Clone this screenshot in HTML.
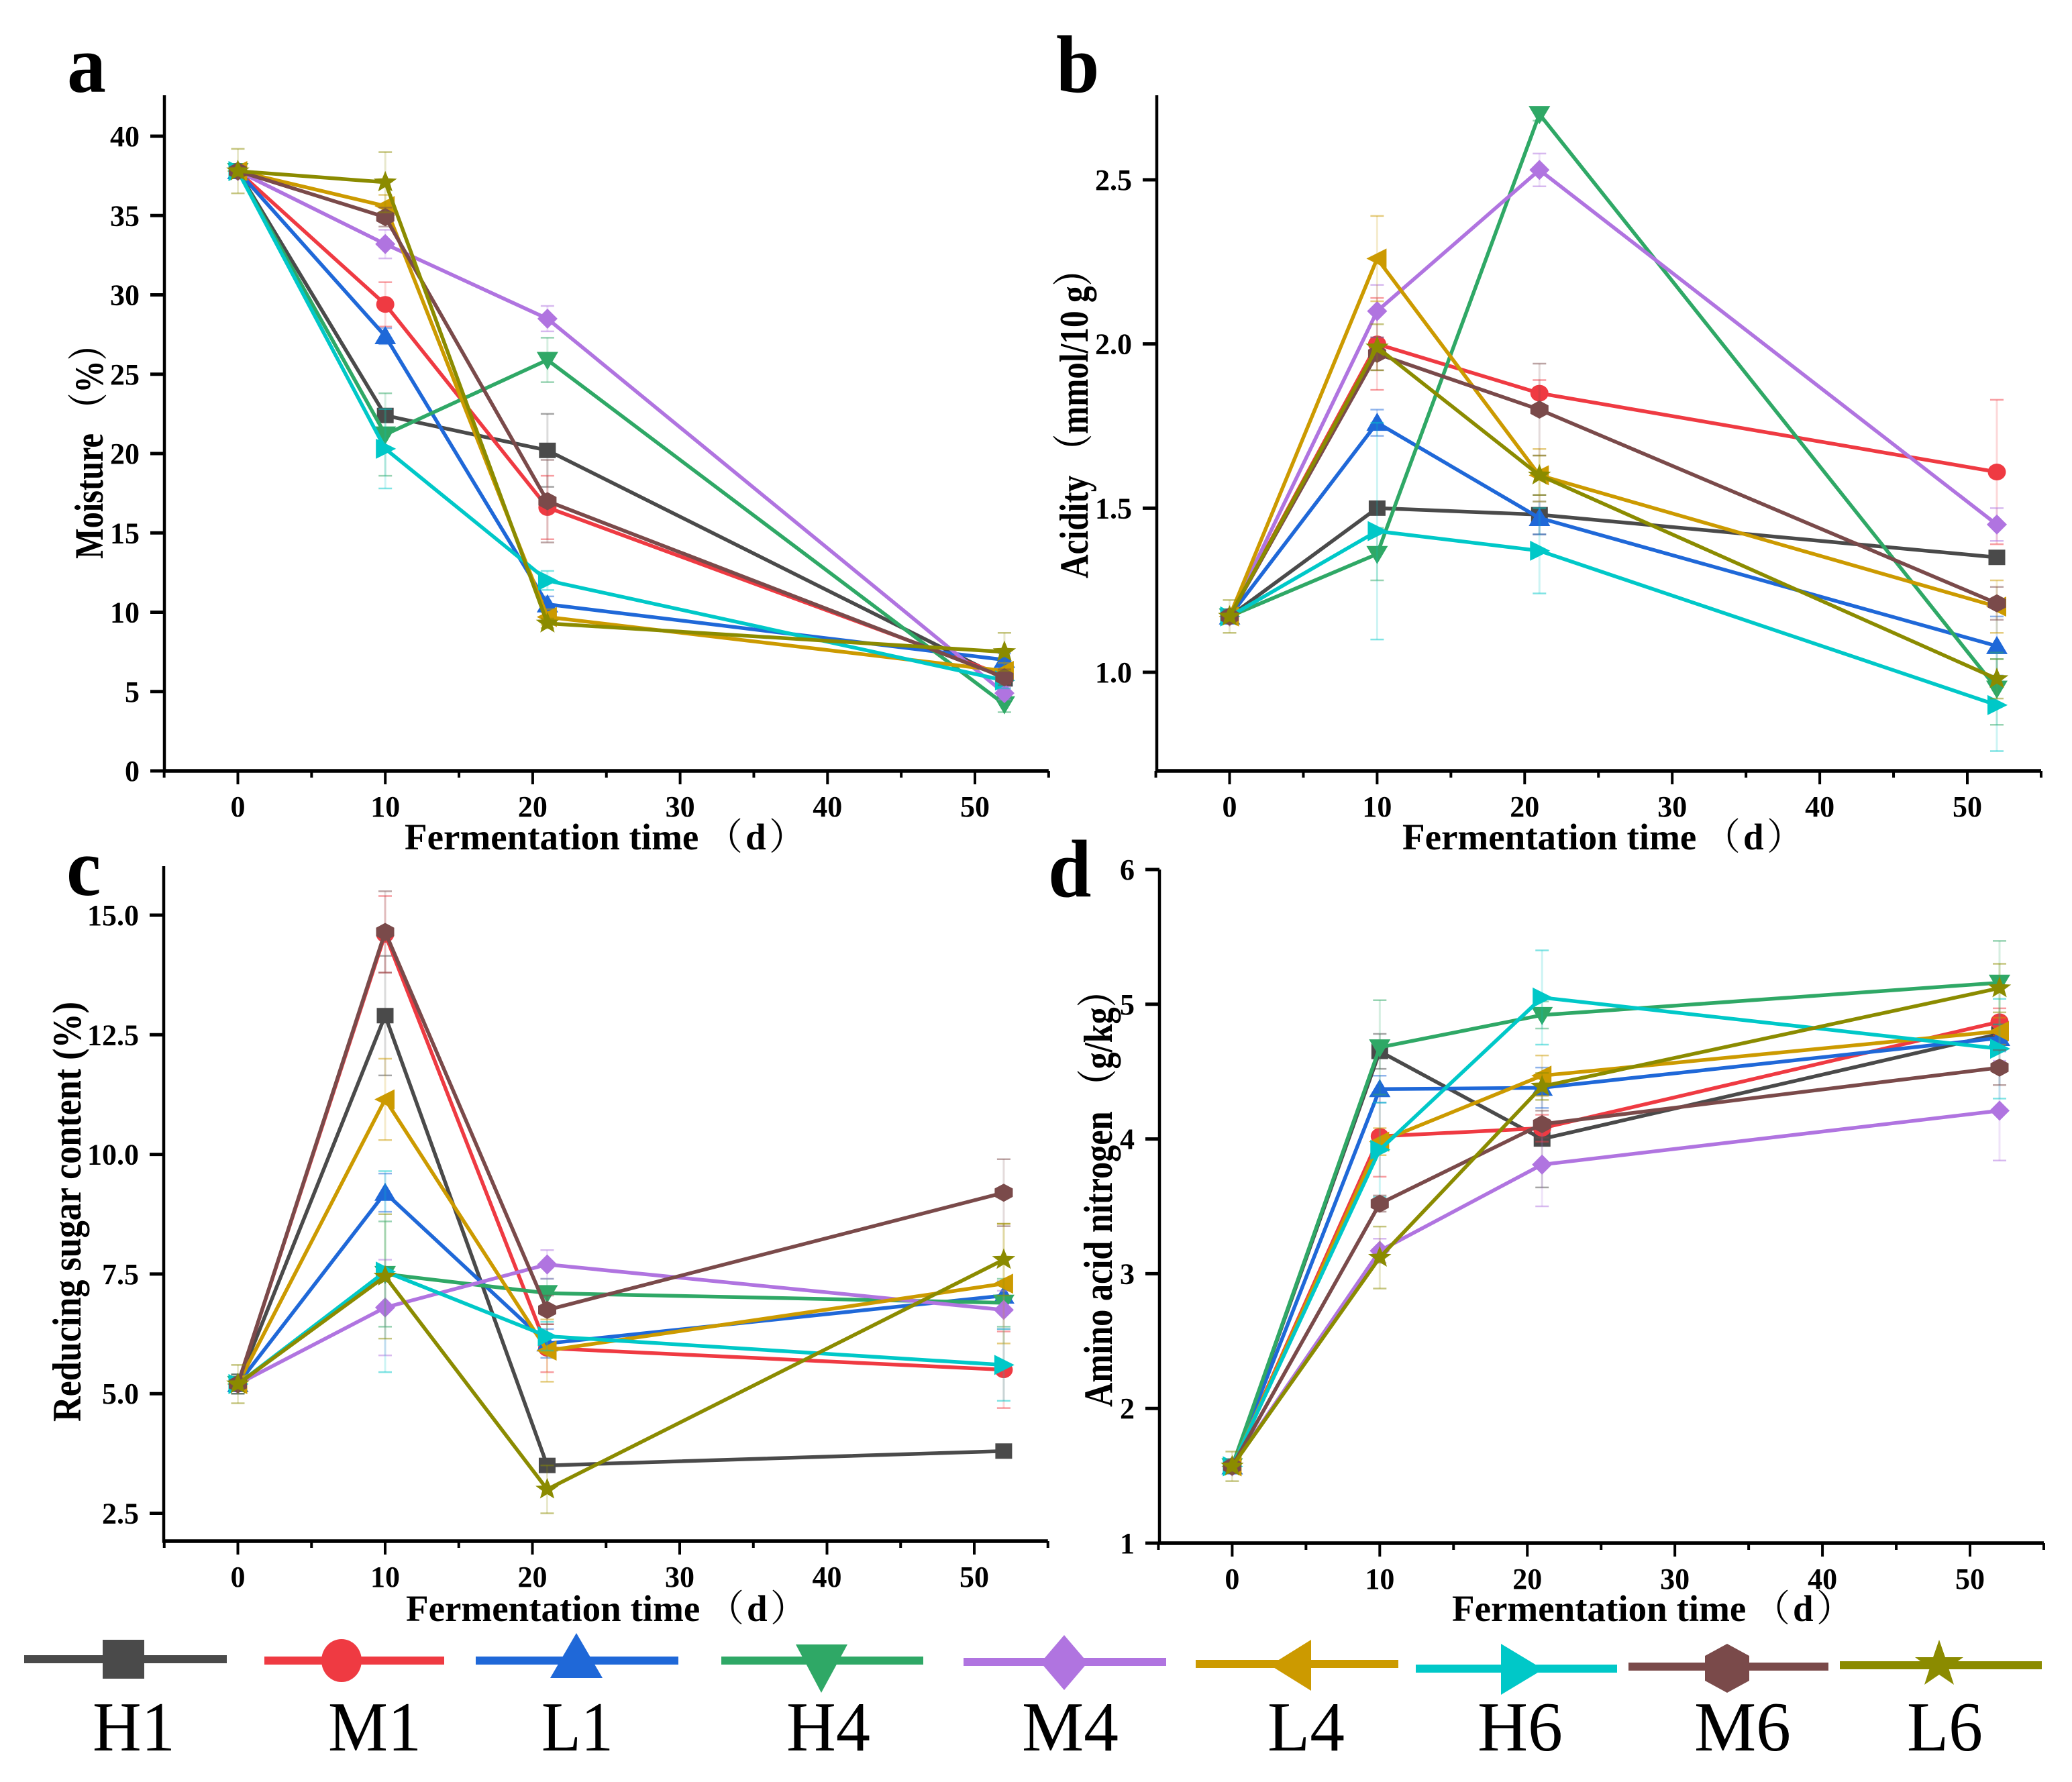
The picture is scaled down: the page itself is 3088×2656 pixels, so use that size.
<!DOCTYPE html>
<html>
<head>
<meta charset="utf-8">
<title>Fermentation time courses</title>
<style>
html,body{margin:0;padding:0;background:#fff;}
svg{display:block;}
text{font-family:"Liberation Serif","Noto Serif CJK SC",serif;fill:#000;}
.b{font-weight:bold;}
.p{font-weight:normal;}
</style>
</head>
<body>
<svg id="fig" xmlns="http://www.w3.org/2000/svg" width="3088" height="2656" viewBox="0 0 3088 2656">
<rect width="3088" height="2656" fill="#fff"/>

<text class="b" transform="translate(100,137) scale(.95,1)" font-size="122">a</text>
<text class="b" transform="translate(1574,137) scale(.95,1)" font-size="122">b</text>
<text class="b" transform="translate(99,1334) scale(.95,1)" font-size="122">c</text>
<text class="b" transform="translate(1562,1336) scale(.95,1)" font-size="122">d</text>

<text class="b" y="1266" font-size="55"><tspan x="603">Fermentation time</tspan><tspan class="p" x="1052">（</tspan><tspan x="1111">d</tspan><tspan class="p" x="1146">）</tspan></text>
<text class="b" y="1266" font-size="55"><tspan x="2090">Fermentation time</tspan><tspan class="p" x="2539">（</tspan><tspan x="2598">d</tspan><tspan class="p" x="2633">）</tspan></text>
<text class="b" y="2416" font-size="55"><tspan x="605">Fermentation time</tspan><tspan class="p" x="1054">（</tspan><tspan x="1113">d</tspan><tspan class="p" x="1148">）</tspan></text>
<text class="b" y="2416" font-size="55"><tspan x="2164">Fermentation time</tspan><tspan class="p" x="2613">（</tspan><tspan x="2672">d</tspan><tspan class="p" x="2707">）</tspan></text>

<text class="b" transform="translate(153,833) rotate(-90)" font-size="60" textLength="344" lengthAdjust="spacingAndGlyphs">Moisture （%）</text>
<text class="b" transform="translate(1621,862) rotate(-90)" font-size="60" textLength="485" lengthAdjust="spacingAndGlyphs">Acidity （mmol/10 g）</text>
<text class="b" transform="translate(120,2119) rotate(-90)" font-size="60" textLength="626" lengthAdjust="spacingAndGlyphs">Reducing sugar content (%)</text>
<text class="b" transform="translate(1657,2097) rotate(-90)" font-size="60" textLength="646" lengthAdjust="spacingAndGlyphs">Amino acid nitrogen （g/kg）</text>

<text x="138" y="2609" font-size="105" textLength="123" lengthAdjust="spacingAndGlyphs">H1</text>
<text x="489" y="2609" font-size="105" textLength="139" lengthAdjust="spacingAndGlyphs">M1</text>
<text x="807" y="2609" font-size="105" textLength="107" lengthAdjust="spacingAndGlyphs">L1</text>
<text x="1172" y="2609" font-size="105" textLength="125" lengthAdjust="spacingAndGlyphs">H4</text>
<text x="1523" y="2609" font-size="105" textLength="144" lengthAdjust="spacingAndGlyphs">M4</text>
<text x="1889" y="2609" font-size="105" textLength="115" lengthAdjust="spacingAndGlyphs">L4</text>
<text x="2202" y="2609" font-size="105" textLength="127" lengthAdjust="spacingAndGlyphs">H6</text>
<text x="2525" y="2609" font-size="105" textLength="144" lengthAdjust="spacingAndGlyphs">M6</text>
<text x="2842" y="2609" font-size="105" textLength="113" lengthAdjust="spacingAndGlyphs">L6</text>

<g><line x1="36" y1="2473" x2="338" y2="2473" stroke="#4a4a4a" stroke-width="12"/><rect x="153" y="2444" width="62" height="58" fill="#4a4a4a"/></g>
<g><line x1="394" y1="2475" x2="662" y2="2475" stroke="#ef3a42" stroke-width="12"/><ellipse cx="509" cy="2475" rx="30" ry="32" fill="#ef3a42"/></g>
<g><line x1="709" y1="2475" x2="1011" y2="2475" stroke="#1f68d8" stroke-width="12"/><polygon points="859,2434 898,2501 820,2501" fill="#1f68d8"/></g>
<g><line x1="1075" y1="2475" x2="1376" y2="2475" stroke="#2fa866" stroke-width="12"/><polygon points="1186,2451 1263,2451 1224,2523" fill="#2fa866"/></g>
<g><line x1="1436" y1="2477" x2="1738" y2="2477" stroke="#b074e0" stroke-width="12"/><polygon points="1586,2437 1621,2478 1586,2519 1551,2478" fill="#b074e0"/></g>
<g><line x1="1782" y1="2480" x2="2084" y2="2480" stroke="#cc9a00" stroke-width="12"/><polygon points="1893,2482 1954,2444 1954,2520" fill="#cc9a00"/></g>
<g><line x1="2110" y1="2487" x2="2410" y2="2487" stroke="#00c8c8" stroke-width="12"/><polygon points="2237,2450 2300,2488 2237,2526" fill="#00c8c8"/></g>
<g><line x1="2427" y1="2484" x2="2725" y2="2484" stroke="#7a4a4a" stroke-width="12"/><polygon points="2574,2450 2607,2468 2607,2505 2574,2523 2541,2505 2541,2468" fill="#7a4a4a"/></g>
<g><line x1="2742" y1="2482" x2="3043" y2="2482" stroke="#8b8b00" stroke-width="12"/><polygon points="2890,2444 2899,2470 2926,2470 2904,2486 2912,2511 2890,2496 2868,2511 2876,2486 2854,2470 2881,2470" fill="#8b8b00"/></g>

<g id="charts"></g>
</svg>

<script>
const days = [0, 10, 21, 52];
const seriesNames = ['H1','M1','L1','H4','M4','L4','H6','M6','L6'];
const seriesColors = ['#4a4a4a','#ef3a42','#1f68d8','#2fa866','#b074e0','#cc9a00','#00c8c8','#7a4a4a','#8b8b00'];

const xTickLabels = ['0','10','20','30','40','50'];
const xMinorTicks = [-5,5,15,25,35,45,55];

const moistureTicks = ['0','5','10','15','20','25','30','35','40'];
const acidityTicks = ['1.0','1.5','2.0','2.5'];
const sugarTicks = ['2.5','5.0','7.5','10.0','12.5','15.0'];
const nitrogenTicks = ['1','2','3','4','5','6'];

const moistureH1 = [37.8,22.4,20.2,5.8];
const moistureM1 = [37.8,29.4,16.6,6.0];
const moistureL1 = [37.8,27.4,10.5,7.0];
const moistureH4 = [37.8,21.2,25.9,4.2];
const moistureM4 = [37.8,33.2,28.5,4.9];
const moistureL4 = [37.8,35.6,9.7,6.3];
const moistureH6 = [37.8,20.3,12.0,5.7];
const moistureM6 = [37.8,34.9,17.0,5.9];
const moistureL6 = [37.8,37.1,9.3,7.5];
const moistureErrH1 = [0.2,0.4,2.3,0.4];
const moistureErrM1 = [0.2,1.4,2.0,0.5];
const moistureErrL1 = [0.2,0.5,0.5,0.4];
const moistureErrH4 = [0.2,2.6,1.4,0.5];
const moistureErrM4 = [0.2,0.9,0.8,0.4];
const moistureErrL4 = [0.2,0.7,0.5,0.5];
const moistureErrH6 = [0.2,2.5,0.6,0.5];
const moistureErrM6 = [0.2,0.6,2.6,0.5];
const moistureErrL6 = [1.4,1.9,0.3,1.2];

const acidityH1 = [1.17,1.50,1.48,1.35];
const acidityM1 = [1.17,2.00,1.85,1.61];
const acidityL1 = [1.17,1.76,1.47,1.08];
const acidityH4 = [1.17,1.36,2.70,0.95];
const acidityM4 = [1.17,2.10,2.53,1.45];
const acidityL4 = [1.17,2.26,1.60,1.20];
const acidityH6 = [1.17,1.43,1.37,0.90];
const acidityM6 = [1.17,1.97,1.80,1.21];
const acidityL6 = [1.17,1.99,1.60,0.98];
const acidityErrH1 = [0.02,0.02,0.06,0.02];
const acidityErrM1 = [0.02,0.14,0.04,0.22];
const acidityErrL1 = [0.02,0.04,0.05,0.09];
const acidityErrH4 = [0.02,0.08,0.02,0.11];
const acidityErrM4 = [0.02,0.08,0.05,0.05];
const acidityErrL4 = [0.02,0.13,0.08,0.08];
const acidityErrH6 = [0.02,0.33,0.13,0.14];
const acidityErrM6 = [0.02,0.05,0.14,0.05];
const acidityErrL6 = [0.05,0.07,0.06,0.06];

const sugarH1 = [5.2,12.9,3.5,3.8];
const sugarM1 = [5.2,14.6,5.95,5.5];
const sugarL1 = [5.2,9.2,6.05,7.05];
const sugarH4 = [5.2,7.5,7.1,6.9];
const sugarM4 = [5.2,6.8,7.7,6.75];
const sugarL4 = [5.2,11.15,5.9,7.3];
const sugarH6 = [5.2,7.55,6.2,5.6];
const sugarM6 = [5.2,14.65,6.75,9.2];
const sugarL6 = [5.2,7.45,3.0,7.8];
const sugarErrH1 = [0.2,1.25,0.1,0.1];
const sugarErrM1 = [0.2,0.8,0.5,0.8];
const sugarErrL1 = [0.2,0.4,0.3,0.3];
const sugarErrH4 = [0.2,1.1,0.3,0.5];
const sugarErrM4 = [0.2,1.0,0.3,0.4];
const sugarErrL4 = [0.2,0.85,0.65,1.25];
const sugarErrH6 = [0.2,2.1,0.3,0.75];
const sugarErrM6 = [0.2,0.85,0.3,0.7];
const sugarErrL6 = [0.4,1.3,0.5,0.75];

const nitrogenH1 = [1.57,4.65,4.00,4.78];
const nitrogenM1 = [1.57,4.02,4.08,4.87];
const nitrogenL1 = [1.57,4.37,4.38,4.75];
const nitrogenH4 = [1.57,4.68,4.92,5.16];
const nitrogenM4 = [1.57,3.17,3.81,4.21];
const nitrogenL4 = [1.57,3.98,4.47,4.80];
const nitrogenH6 = [1.57,3.92,5.05,4.67];
const nitrogenM6 = [1.57,3.52,4.11,4.53];
const nitrogenL6 = [1.57,3.12,4.39,5.12];
const nitrogenErrH1 = [0.05,0.13,0.36,0.1];
const nitrogenErrM1 = [0.05,0.3,0.1,0.1];
const nitrogenErrL1 = [0.05,0.1,0.15,0.1];
const nitrogenErrH4 = [0.05,0.35,0.1,0.31];
const nitrogenErrM4 = [0.05,0.09,0.31,0.37];
const nitrogenErrL4 = [0.05,0.1,0.15,0.1];
const nitrogenErrH6 = [0.05,0.35,0.35,0.37];
const nitrogenErrM6 = [0.05,0.06,0.1,0.13];
const nitrogenErrL6 = [0.11,0.23,0.1,0.18];

const NS = 'http://www.w3.org/2000/svg';
const root = document.getElementById('charts');

function mk(tag, attrs, parent){
  const el = document.createElementNS(NS, tag);
  for (const k in attrs) el.setAttribute(k, attrs[k]);
  parent.appendChild(el);
  return el;
}
function linear(d0, d1, r0, r1){
  return function(v){ return r0 + (v - d0) * (r1 - r0) / (d1 - d0); };
}
function pts(list){
  return list.map(function(p){ return p[0].toFixed(1) + ',' + p[1].toFixed(1); }).join(' ');
}
function marker(kind, x, y, color, parent){
  const rx = 13.5, ry = 12.5;
  let el;
  if (kind === 'H1') {
    el = mk('rect', {x:x-rx+1, y:y-ry+1, width:2*rx-2, height:2*ry-2, fill:color}, parent);
  } else if (kind === 'M1') {
    el = mk('ellipse', {cx:x, cy:y, rx:rx, ry:ry, fill:color}, parent);
  } else {
    let p;
    if (kind === 'L1') p = [[x,y-15],[x+16,y+12],[x-16,y+12]];
    if (kind === 'H4') p = [[x-16,y-12],[x+16,y-12],[x,y+15]];
    if (kind === 'M4') p = [[x,y-15],[x+15,y],[x,y+15],[x-15,y]];
    if (kind === 'L4') p = [[x-16,y],[x+14,y-15],[x+14,y+15]];
    if (kind === 'H6') p = [[x+16,y],[x-14,y-15],[x-14,y+15]];
    if (kind === 'M6') p = [[x,y-ry-1],[x+rx,y-ry/2],[x+rx,y+ry/2],[x,y+ry+1],[x-rx,y+ry/2],[x-rx,y-ry/2]];
    if (kind === 'L6') {
      p = [];
      for (let i = 0; i < 10; i++) {
        const a = -Math.PI / 2 + i * Math.PI / 5;
        const r = i % 2 ? 0.55 : 1.3;
        p.push([x + 14 * r * Math.cos(a), y + 13 * r * Math.sin(a)]);
      }
    }
    el = mk('polygon', {points:pts(p), fill:color}, parent);
  }
  return el;
}

function drawPanel(cfg){
  const g = mk('g', {}, root);
  
  
  const X = linear(0, 50, cfg.x0, cfg.x50);
  const Y = linear(cfg.v0, cfg.v1, cfg.y0, cfg.y1);

  const xAxis = mk('line', {x1:cfg.left-2, y1:cfg.bottom, x2:X(55), y2:cfg.bottom, stroke:'#000', 'stroke-width':5.5}, g);
  
  
  const yAxis = mk('line', {x1:cfg.left, y1:cfg.top, x2:cfg.left, y2:cfg.bottom+2, stroke:'#000', 'stroke-width':4.5}, g);
  
  

  xTickLabels.forEach(function(lbl){
    const v = Number(lbl);
    const t = mk('line', {x1:X(v), y1:cfg.bottom, x2:X(v), y2:cfg.bottom+20, stroke:'#000', 'stroke-width':4}, g);
    
    
    const tx = mk('text', {'text-anchor':'middle', 'font-size':44, 'font-weight':'bold', x:X(v), y:cfg.bottom+68}, g);
    tx.textContent = lbl;
    
    
  });
  xMinorTicks.forEach(function(v){
    const t = mk('line', {x1:X(v), y1:cfg.bottom, x2:X(v), y2:cfg.bottom+10, stroke:'#000', 'stroke-width':4}, g);
    
    
  });
  cfg.ticks.forEach(function(lbl){
    const v = Number(lbl);
    const t = mk('line', {x1:cfg.left-21, y1:Y(v), x2:cfg.left, y2:Y(v), stroke:'#000', 'stroke-width':5}, g);
    
    
    const tx = mk('text', {'text-anchor':'end', 'font-size':44, 'font-weight':'bold', x:cfg.left-37, y:Y(v)+15}, g);
    tx.textContent = lbl;
    
    
  });

  cfg.values.forEach(function(vals, si){
    const color = seriesColors[si];
    const name = seriesNames[si];
    const sg = mk('g', {}, g);
    
    
    const errs = cfg.errors[si];
    vals.forEach(function(v, i){
      const x = X(days[i]);
      const yt = Y(v + errs[i]);
      const yb = Y(v - errs[i]);
      const stem = mk('path', {d:'M' + x + ' ' + yt + 'V' + yb, fill:'none', stroke:color, 'stroke-width':3, opacity:0.2}, sg);
      
      
      const caps = mk('path', {d:'M' + (x-10) + ' ' + yt + 'H' + (x+10) + 'M' + (x-10) + ' ' + yb + 'H' + (x+10),
        fill:'none', stroke:color, 'stroke-width':2.5, opacity:0.5}, sg);
      
      
    });
    const line = mk('polyline', {points:pts(vals.map(function(v, i){ return [X(days[i]), Y(v)]; })),
      fill:'none', stroke:color, 'stroke-width':5.5, 'stroke-linejoin':'round'}, sg);
    
    
    vals.forEach(function(v, i){
      const m = marker(name, X(days[i]), Y(v), color, sg);
      
      
    });
  });
}

drawPanel({id:'a', x0:354.5, x50:1453, v0:0, v1:40, y0:1149, y1:203, left:245, top:142, bottom:1149, ticks:moistureTicks,
  values:[moistureH1,moistureM1,moistureL1,moistureH4,moistureM4,moistureL4,moistureH6,moistureM6,moistureL6],
  errors:[moistureErrH1,moistureErrM1,moistureErrL1,moistureErrH4,moistureErrM4,moistureErrL4,moistureErrH6,moistureErrM6,moistureErrL6]});
drawPanel({id:'b', x0:1832.5, x50:2932, v0:1, v1:2.5, y0:1002, y1:268, left:1724, top:142, bottom:1149, ticks:acidityTicks,
  values:[acidityH1,acidityM1,acidityL1,acidityH4,acidityM4,acidityL4,acidityH6,acidityM6,acidityL6],
  errors:[acidityErrH1,acidityErrM1,acidityErrL1,acidityErrH4,acidityErrM4,acidityErrL4,acidityErrH6,acidityErrM6,acidityErrL6]});
drawPanel({id:'c', x0:354.5, x50:1452, v0:2.5, v1:15, y0:2255.5, y1:1364, left:244, top:1291, bottom:2297, ticks:sugarTicks,
  values:[sugarH1,sugarM1,sugarL1,sugarH4,sugarM4,sugarL4,sugarH6,sugarM6,sugarL6],
  errors:[sugarErrH1,sugarErrM1,sugarErrL1,sugarErrH4,sugarErrM4,sugarErrL4,sugarErrH6,sugarErrM6,sugarErrL6]});
drawPanel({id:'d', x0:1836.4, x50:2936, v0:1, v1:6, y0:2300, y1:1296, left:1728, top:1296, bottom:2300, ticks:nitrogenTicks,
  values:[nitrogenH1,nitrogenM1,nitrogenL1,nitrogenH4,nitrogenM4,nitrogenL4,nitrogenH6,nitrogenM6,nitrogenL6],
  errors:[nitrogenErrH1,nitrogenErrM1,nitrogenErrL1,nitrogenErrH4,nitrogenErrM4,nitrogenErrL4,nitrogenErrH6,nitrogenErrM6,nitrogenErrL6]});
</script>
</body>
</html>
